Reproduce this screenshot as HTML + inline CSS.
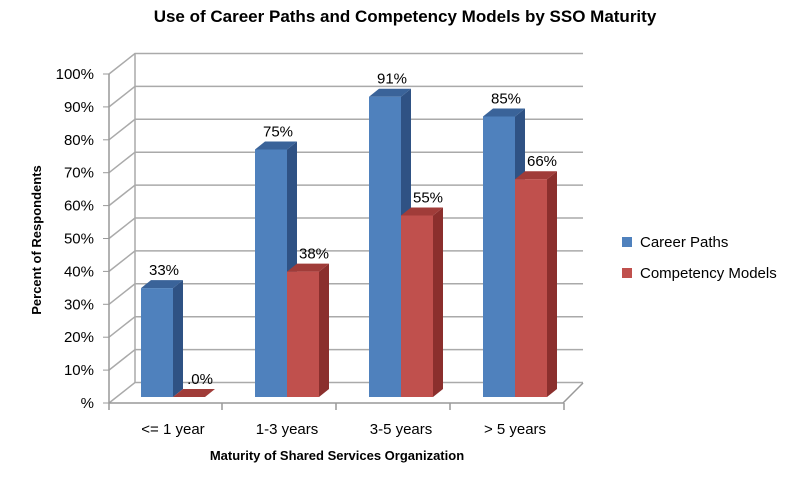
<!DOCTYPE html><html><head><style>body{margin:0;background:#fff}svg{font-family:"Liberation Sans",sans-serif}</style></head><body>
<svg width="810" height="480" viewBox="0 0 810 480">
<text x="405" y="22" text-anchor="middle" font-weight="bold" font-size="17">Use of Career Paths and Competency Models by SSO Maturity</text>
<g stroke="#aaa" stroke-width="1.5" fill="none">
<line x1="135" y1="53" x2="135" y2="383"/>
</g>
<g id="gl"></g>
<g stroke="#999" stroke-width="1.5" fill="none">
<line x1="109" y1="74" x2="109" y2="403"/>
<polyline points="109,403 563,403 583,383"/>
</g>
<g id="bars"></g>
<text x="337" y="460" text-anchor="middle" font-weight="bold" font-size="13">Maturity of Shared Services Organization</text>
<text transform="translate(41,240) rotate(-90)" text-anchor="middle" font-weight="bold" font-size="13">Percent of Respondents</text>
<rect x="622" y="237" width="10" height="10" fill="#4f81bd"/><text x="640" y="247" font-size="15">Career Paths</text>
<rect x="622" y="268" width="10" height="10" fill="#c0504d"/><text x="640" y="278" font-size="15">Competency Models</text>
</svg>
<script>
var s='';for(var i=0;i<=10;i++){var y=403-i*32.9,yb=y-20.5;s+='<polyline points="109,'+y+' 135,'+yb+' 583,'+yb+'" stroke="#aaa" stroke-width="1.5" fill="none"/><line x1="103" x2="109" y1="'+y+'" y2="'+y+'" stroke="#999"/>';
s+='<text x="94" y="'+(y+5)+'" text-anchor="end" font-size="15" fill="#000" stroke="none">'+(i?i*10:'')+'%</text>';}
[109,222,336,450,564].forEach(function(x){s+='<line x1="'+x+'" x2="'+x+'" y1="403" y2="410" stroke="#999" stroke-width="1.5"/>'});
document.getElementById('gl').innerHTML=s;s='';
var d=[[33,0],[75,38],[91,55],[85,66]],lab=['&lt;= 1 year','1-3 years','3-5 years','&gt; 5 years'];
function bar(x,v,f,sd,tp){var b=397,t=b-v*3.3,w=32;return '<polygon points="'+(x+w)+','+b+' '+(x+w+10)+','+(b-8)+' '+(x+w+10)+','+(t-8)+' '+(x+w)+','+t+'" fill="'+sd+'"/><polygon points="'+x+','+t+' '+(x+10)+','+(t-8)+' '+(x+w+10)+','+(t-8)+' '+(x+w)+','+t+'" fill="'+tp+'"/><rect x="'+x+'" y="'+t+'" width="'+w+'" height="'+(b-t)+'" fill="'+f+'"/>';}
d.forEach(function(p,k){var x=141+114*k;s+=bar(x,p[0],'#4f81bd','#2f5284','#3a6399');s+=bar(x+32,p[1],'#c0504d','#8b2f2d','#a03c39');
s+='<text x="'+(x+23)+'" y="'+(397-p[0]*3.3-13)+'" text-anchor="middle" font-size="15">'+p[0]+'%</text>';
s+='<text x="'+(x+59)+'" y="'+(397-p[1]*3.3-13)+'" text-anchor="middle" font-size="15">'+(p[1]?p[1]:'.0')+'%</text>';
s+='<text x="'+(x+32)+'" y="434" text-anchor="middle" font-size="15">'+lab[k]+'</text>';});
document.getElementById('bars').innerHTML=s;
</script>
</body></html>
